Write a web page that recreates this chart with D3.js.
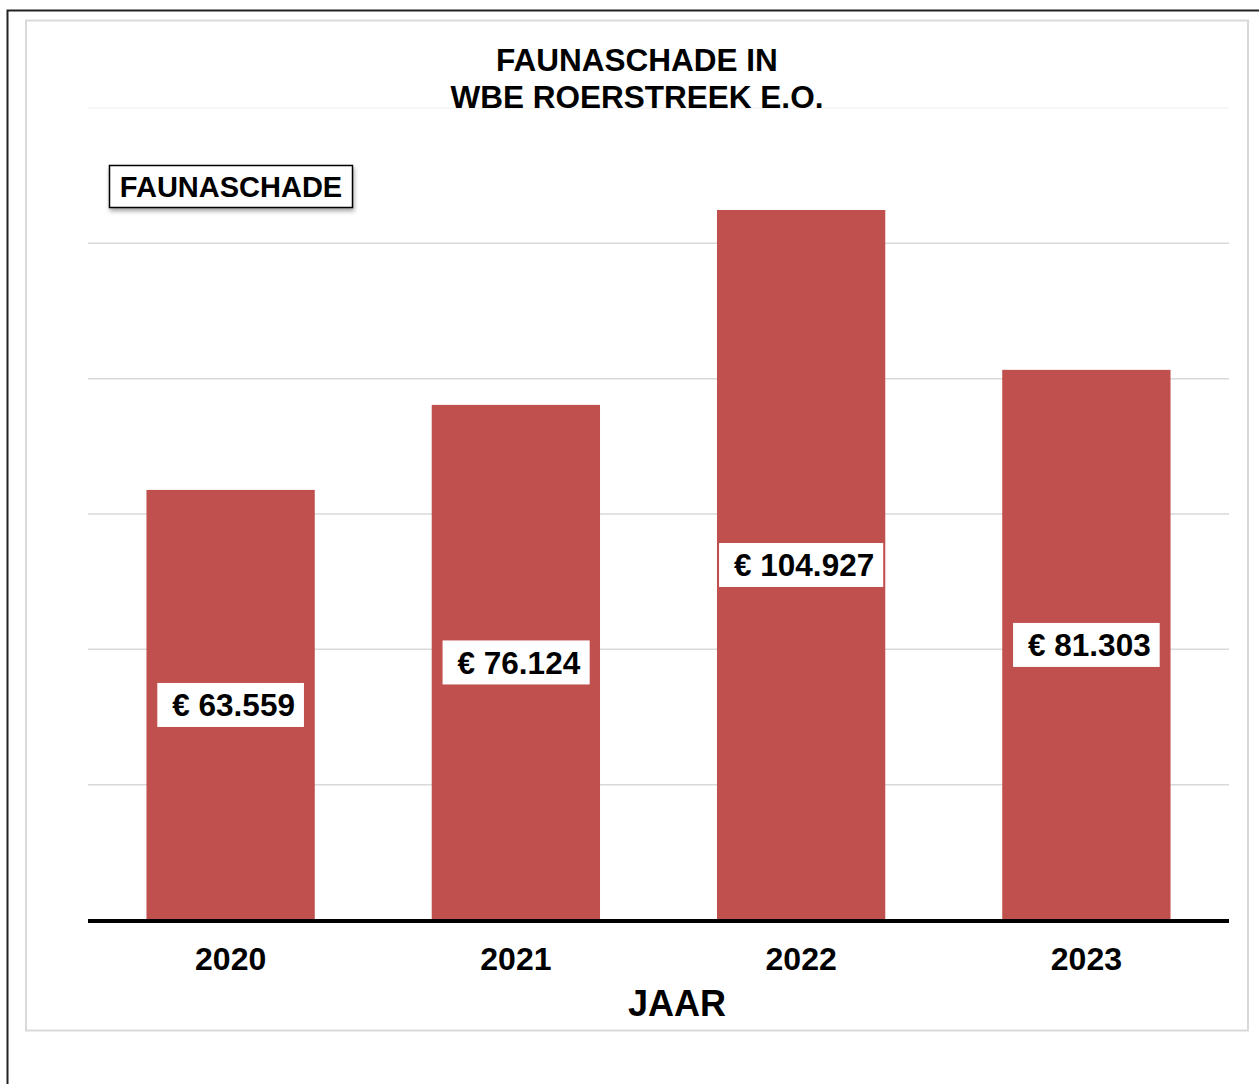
<!DOCTYPE html>
<html><head><meta charset="utf-8">
<script src="https://cdn.jsdelivr.net/npm/d3@7"></script>
<style>body{margin:0;background:#fff}svg{display:block}</style>
</head><body>
<script>
const categories = ["2020","2021","2022","2023"];
const values = [63559, 76124, 104927, 81303];
const labels = ["€ 63.559","€ 76.124","€ 104.927","€ 81.303"];
const gridTicks = [20000,40000,60000,80000,100000];
const titleLines = ["FAUNASCHADE IN","WBE ROERSTREEK E.O."];
const seriesName = "FAUNASCHADE";
const xTitle = "JAAR";

const W=1259,H=1084;
const font = "'Liberation Sans', Arial, sans-serif";
const svg = d3.select("body").append("svg").attr("width",W).attr("height",H);
const defs = svg.append("defs");
const f = defs.append("filter").attr("id","sh").attr("x","-10%").attr("y","-30%").attr("width","130%").attr("height","180%");
f.append("feDropShadow").attr("dx",1).attr("dy",3).attr("stdDeviation",2).attr("flood-color","#000").attr("flood-opacity",0.35);

// outer border (top + left)
svg.append("path").attr("d","M7.5,1084 V10.5 H1259").attr("fill","none").attr("stroke","#222").attr("stroke-width",2);
// inner frame
svg.append("rect").attr("x",26).attr("y",20.5).attr("width",1222).attr("height",1010).attr("fill","#fff").attr("stroke","#d9d9d9").attr("stroke-width",2);

const x = d3.scaleBand().domain(categories).range([88,1229]).paddingInner(0.41).paddingOuter(0.205);
const y = d3.scaleLinear().domain([0,120000]).range([920,108]);

// faint top gridline
svg.append("line").attr("x1",88).attr("x2",1229).attr("y1",y(120000)).attr("y2",y(120000)).attr("stroke","#f3f3f3").attr("stroke-width",1.5);
svg.append("g").selectAll("line").data(gridTicks).join("line")
  .attr("x1",88).attr("x2",1229).attr("y1",d=>y(d)).attr("y2",d=>y(d))
  .attr("stroke","#d9d9d9").attr("stroke-width",1.5);

svg.append("g").selectAll("rect").data(values).join("rect")
  .attr("x",(d,i)=>x(categories[i])).attr("width",x.bandwidth())
  .attr("y",d=>y(d)).attr("height",d=>y(0)-y(d)).attr("fill","#c0504d");

// baseline
svg.append("line").attr("x1",88).attr("x2",1229).attr("y1",y(0)+1).attr("y2",y(0)+1).attr("stroke","#000").attr("stroke-width",4);

// data labels
const lg = svg.append("g");
values.forEach((v,i)=>{
  const cx = x(categories[i])+x.bandwidth()/2;
  const cy = (y(v)+y(0))/2;
  const g = lg.append("g");
  const r = g.append("rect").attr("fill","#fff");
  const t = g.append("text").attr("x",cx+3).attr("y",cy).attr("dy","0.36em").attr("text-anchor","middle")
    .attr("font-family",font).attr("font-weight","bold").attr("font-size",31.5).text(labels[i]);
  const bb = t.node().getBBox();
  r.attr("x",bb.x-15).attr("width",bb.width+24).attr("y",cy-22).attr("height",44);
});

// x axis labels
svg.append("g").selectAll("text").data(categories).join("text")
  .attr("x",d=>x(d)+x.bandwidth()/2).attr("y",970).attr("text-anchor","middle")
  .attr("font-family",font).attr("font-weight","bold").attr("font-size",32).text(d=>d);
svg.append("text").attr("x",677).attr("y",1016).attr("text-anchor","middle")
  .attr("font-family",font).attr("font-weight","bold").attr("font-size",36).text(xTitle);

// title
svg.append("g").selectAll("text").data(titleLines).join("text")
  .attr("x",637).attr("y",(d,i)=>71+i*37).attr("text-anchor","middle")
  .attr("font-family",font).attr("font-weight","bold").attr("font-size",31.5).text(d=>d);

// legend
const lgd = svg.append("g");
lgd.append("rect").attr("x",109.5).attr("y",165.5).attr("width",243).attr("height",42)
  .attr("fill","#fff").attr("stroke","#000").attr("stroke-width",1.5).attr("filter","url(#sh)");
lgd.append("text").attr("x",231).attr("y",197).attr("text-anchor","middle")
  .attr("font-family",font).attr("font-weight","bold").attr("font-size",29).text(seriesName);
</script>
</body></html>
